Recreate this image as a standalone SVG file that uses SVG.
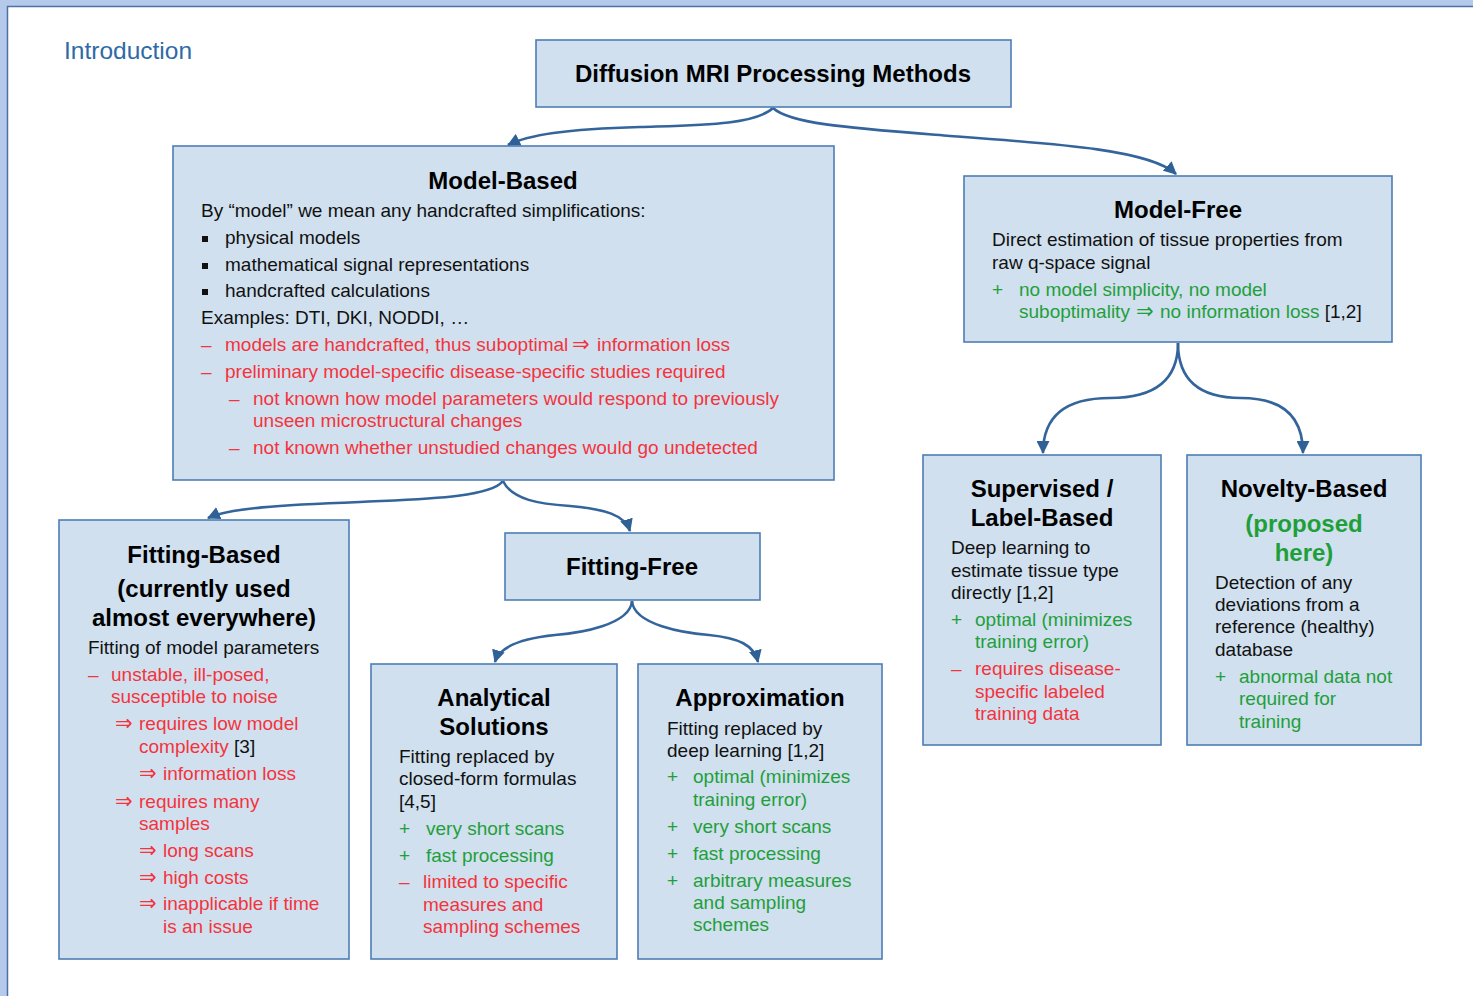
<svg xmlns="http://www.w3.org/2000/svg" width="1473" height="996" viewBox="0 0 1473 996">
<defs>
<marker id="ah" viewBox="0 0 12 12" refX="11" refY="6" markerWidth="13" markerHeight="13" markerUnits="userSpaceOnUse" orient="auto">
<path d="M0,0 L12,6 L0,12 z" fill="#2f6197"/>
</marker>
<style>
.box{fill:#d0e0ef;stroke:#4e7db5;stroke-width:1.6}
.con{fill:none;stroke:#33659c;stroke-width:2.6;marker-end:url(#ah)}
text{font-family:"Liberation Sans",Arial,sans-serif;font-size:19px;fill:#111}
.t{font-weight:bold;font-size:24px;text-anchor:middle;fill:#000}
.r{fill:#f5333c}
.g{fill:#1f9f3a}
.k{fill:#111}
.gt{font-weight:bold;font-size:24px;text-anchor:middle;fill:#1f9f3a}
.ar{font-family:"DejaVu Sans",sans-serif;font-size:21px}
</style>
</defs>
<rect x="0" y="0" width="1473" height="996" fill="#ffffff"/>
<rect x="0" y="0" width="1473" height="6" fill="#b5c9ea"/>
<rect x="0" y="0" width="7" height="996" fill="#b5c9ea"/>
<line x1="7" y1="6.5" x2="1473" y2="6.5" stroke="#4a72a8" stroke-width="1.5"/>
<line x1="7.5" y1="6" x2="7.5" y2="996" stroke="#4a72a8" stroke-width="1.5"/>
<text x="64" y="59" style="font-size:24.5px;fill:#2e6aa6">Introduction</text>

<g id="connectors">
<path class="con" d="M773,108 C755,125 700,125 640,127 C565,129 528,135 508,145"/>
<path class="con" d="M773,108 C790,124 850,128 950,136 C1060,144 1150,150 1176,174"/>
<path class="con" d="M503,481 C490,498 420,499 360,502 C280,505 230,508 208,518"/>
<path class="con" d="M503,481 C512,500 540,504 570,506 C605,509 625,515 630,531"/>
<path class="con" d="M632,601 C630,625 580,633 555,635 C525,638 500,645 495,662"/>
<path class="con" d="M632,601 C634,625 684,633 709,635 C739,638 754,645 758,662"/>
<path class="con" d="M1178,343 Q1178,398 1110,398 Q1043,398 1043,453"/>
<path class="con" d="M1178,343 Q1178,398 1241,398 Q1303,398 1303,453"/>
</g>

<g id="root">
<rect class="box" x="536" y="40" width="475" height="67"/>
<text class="t" x="773" y="82">Diffusion MRI Processing Methods</text>
</g>

<g id="model-based">
<rect class="box" x="173" y="146" width="661" height="334"/>
<text class="t" x="503" y="189">Model-Based</text>
<text x="201" y="217">By “model” we mean any handcrafted simplifications:</text>
<rect x="202" y="236" width="6" height="6" fill="#111"/>
<text x="225" y="244">physical models</text>
<rect x="202" y="263" width="6" height="6" fill="#111"/>
<text x="225" y="271">mathematical signal representations</text>
<rect x="202" y="289" width="6" height="6" fill="#111"/>
<text x="225" y="297">handcrafted calculations</text>
<text x="201" y="324">Examples: DTI, DKI, NODDI, …</text>
<text class="r" x="201" y="351">–</text>
<text class="r" x="225" y="351">models are handcrafted, thus suboptimal</text>
<text class="r ar" x="572" y="351">⇒</text>
<text class="r" x="597" y="351">information loss</text>
<text class="r" x="201" y="378">–</text>
<text class="r" x="225" y="378">preliminary model-specific disease-specific studies required</text>
<text class="r" x="229" y="405">–</text>
<text class="r" x="253" y="405">not known how model parameters would respond to previously</text>
<text class="r" x="253" y="427">unseen microstructural changes</text>
<text class="r" x="229" y="454">–</text>
<text class="r" x="253" y="454">not known whether unstudied changes would go undetected</text>
</g>

<g id="model-free">
<rect class="box" x="964" y="176" width="428" height="166"/>
<text class="t" x="1178" y="218">Model-Free</text>
<text x="992" y="246">Direct estimation of tissue properties from</text>
<text x="992" y="269">raw q-space signal</text>
<text class="g" x="992" y="296">+</text>
<text class="g" x="1019" y="296">no model simplicity, no model</text>
<text class="g" x="1019" y="318">suboptimality</text>
<text class="g ar" x="1136" y="318">⇒</text>
<text class="g" x="1160" y="318">no information loss <tspan class="k">[1,2]</tspan></text>
</g>

<g id="fitting-based">
<rect class="box" x="59" y="520" width="290" height="439"/>
<text class="t" x="204" y="563">Fitting-Based</text>
<text class="t" x="204" y="597">(currently used</text>
<text class="t" x="204" y="626">almost everywhere)</text>
<text x="88" y="654">Fitting of model parameters</text>
<text class="r" x="88" y="681">–</text>
<text class="r" x="111" y="681">unstable, ill-posed,</text>
<text class="r" x="111" y="703">susceptible to noise</text>
<text class="r ar" x="115" y="730">⇒</text>
<text class="r" x="139" y="730">requires low model</text>
<text class="r" x="139" y="753">complexity <tspan class="k">[3]</tspan></text>
<text class="r ar" x="139" y="780">⇒</text>
<text class="r" x="163" y="780">information loss</text>
<text class="r ar" x="115" y="808">⇒</text>
<text class="r" x="139" y="808">requires many</text>
<text class="r" x="139" y="830">samples</text>
<text class="r ar" x="139" y="857">⇒</text>
<text class="r" x="163" y="857">long scans</text>
<text class="r ar" x="139" y="884">⇒</text>
<text class="r" x="163" y="884">high costs</text>
<text class="r ar" x="139" y="910">⇒</text>
<text class="r" x="163" y="910">inapplicable if time</text>
<text class="r" x="163" y="933">is an issue</text>
</g>

<g id="fitting-free">
<rect class="box" x="505" y="533" width="255" height="67"/>
<text class="t" x="632" y="575">Fitting-Free</text>
</g>

<g id="analytical">
<rect class="box" x="371" y="664" width="246" height="295"/>
<text class="t" x="494" y="706">Analytical</text>
<text class="t" x="494" y="735">Solutions</text>
<text x="399" y="763">Fitting replaced by</text>
<text x="399" y="785">closed-form formulas</text>
<text x="399" y="808">[4,5]</text>
<text class="g" x="399" y="835">+</text>
<text class="g" x="426" y="835">very short scans</text>
<text class="g" x="399" y="862">+</text>
<text class="g" x="426" y="862">fast processing</text>
<text class="r" x="399" y="888">–</text>
<text class="r" x="423" y="888">limited to specific</text>
<text class="r" x="423" y="911">measures and</text>
<text class="r" x="423" y="933">sampling schemes</text>
</g>

<g id="approximation">
<rect class="box" x="638" y="664" width="244" height="295"/>
<text class="t" x="760" y="706">Approximation</text>
<text x="667" y="735">Fitting replaced by</text>
<text x="667" y="757">deep learning [1,2]</text>
<text class="g" x="667" y="783">+</text>
<text class="g" x="693" y="783">optimal (minimizes</text>
<text class="g" x="693" y="806">training error)</text>
<text class="g" x="667" y="833">+</text>
<text class="g" x="693" y="833">very short scans</text>
<text class="g" x="667" y="860">+</text>
<text class="g" x="693" y="860">fast processing</text>
<text class="g" x="667" y="887">+</text>
<text class="g" x="693" y="887">arbitrary measures</text>
<text class="g" x="693" y="909">and sampling</text>
<text class="g" x="693" y="931">schemes</text>
</g>

<g id="supervised">
<rect class="box" x="923" y="455" width="238" height="290"/>
<text class="t" x="1042" y="497">Supervised /</text>
<text class="t" x="1042" y="526">Label-Based</text>
<text x="951" y="554">Deep learning to</text>
<text x="951" y="577">estimate tissue type</text>
<text x="951" y="599">directly [1,2]</text>
<text class="g" x="951" y="626">+</text>
<text class="g" x="975" y="626">optimal (minimizes</text>
<text class="g" x="975" y="648">training error)</text>
<text class="r" x="951" y="675">–</text>
<text class="r" x="975" y="675">requires disease-</text>
<text class="r" x="975" y="698">specific labeled</text>
<text class="r" x="975" y="720">training data</text>
</g>

<g id="novelty">
<rect class="box" x="1187" y="455" width="234" height="290"/>
<text class="t" x="1304" y="497">Novelty-Based</text>
<text class="gt" x="1304" y="532">(proposed</text>
<text class="gt" x="1304" y="561">here)</text>
<text x="1215" y="589">Detection of any</text>
<text x="1215" y="611">deviations from a</text>
<text x="1215" y="633">reference (healthy)</text>
<text x="1215" y="656">database</text>
<text class="g" x="1215" y="683">+</text>
<text class="g" x="1239" y="683">abnormal data not</text>
<text class="g" x="1239" y="705">required for</text>
<text class="g" x="1239" y="728">training</text>
</g>
</svg>
